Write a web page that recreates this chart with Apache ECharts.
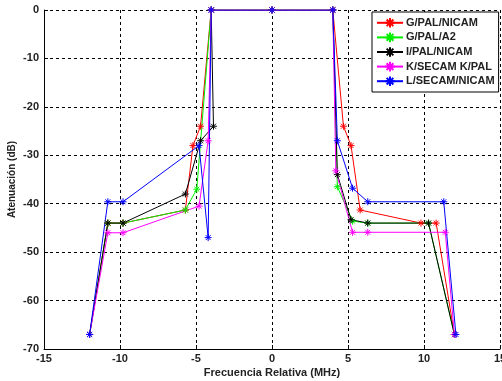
<!DOCTYPE html>
<html><head><meta charset="utf-8">
<script src="https://cdn.jsdelivr.net/npm/echarts@6/dist/echarts.min.js"></script>
<style>html,body{margin:0;padding:0;background:#fff}#c{width:502px;height:381px}</style>
</head><body><div id="c"></div>
<script>
var seriesNames = ['G/PAL/NICAM', 'G/PAL/A2', 'I/PAL/NICAM', 'K/SECAM K/PAL', 'L/SECAM/NICAM'];
var redX = [-12, -10.8, -9.8, -5.7, -5.2, -4.7, -4, 0, 4, 4.7, 5.2, 5.8, 9.8, 10.8, 12];
var redY = [-67, -44, -44, -41.3, -28, -24, 0, 0, 0, -24, -28, -41.3, -44, -44, -67];
var greenX = [-12, -10.8, -9.8, -5.7, -4.95, -4, 0, 4, 4.3, 5.3, 6.3, 10.3, 12];
var greenY = [-67, -44, -44, -41.3, -37, 0, 0, 0, -36.5, -43.6, -44, -44, -67];
var blackX = [-12, -10.8, -9.8, -5.7, -4.7, -3.85, -4, 0, 4, 4.3, 5.2, 6.3, 10.3, 12];
var blackY = [-67, -44, -44, -38, -27, -24, 0, 0, 0, -34, -43.3, -44, -44, -67];
var magentaX = [-12, -10.8, -9.8, -4.8, -4.2, -4, 0, 4, 4.2, 5.3, 6.3, 11.4, 12];
var magentaY = [-67, -46, -46, -40.5, -27, 0, 0, 0, -33.2, -45.9, -45.9, -45.9, -67];
var blueX = [-12, -10.8, -9.8, -4.8, -4.2, -4, 0, 4, 4.3, 5.3, 6.3, 11.3, 12.1];
var blueY = [-67, -39.6, -39.6, -28, -47, 0, 0, 0, -27, -36.8, -39.6, -39.6, -67];

var colors = ['#ff0000', '#00ee00', '#000000', '#ff00ff', '#0000ff'];
var xs = [redX, greenX, blackX, magentaX, blueX];
var ys = [redY, greenY, blackY, magentaY, blueY];

var star = 'path://M5,0L5,10M0,5L10,5M1.5,1.5L8.5,8.5M1.5,8.5L8.5,1.5';
var font = 'Liberation Sans';

var series = seriesNames.map(function (n, i) {
  return {
    name: n, type: 'line',
    data: xs[i].map(function (x, k) { return [x, ys[i][k]]; }),
    symbol: star, symbolSize: 7, showAllSymbol: true,
    lineStyle: { color: colors[i], width: 1 },
    itemStyle: { color: colors[i], borderColor: colors[i], borderWidth: 1 },
    emphasis: { disabled: true },
    animation: false
  };
});

var chart = echarts.init(document.getElementById('c'));
chart.setOption({
  animation: false,
  color: colors,
  grid: { left: 44, right: 2, top: 10, bottom: 32, containLabel: false, outerBoundsMode: 'none' },
  xAxis: {
    type: 'value', min: -15, max: 15, interval: 5,
    name: 'Frecuencia Relativa (MHz)', nameLocation: 'middle', nameGap: 18, nameMoveOverlap: false,
    nameTextStyle: { fontFamily: font, fontWeight: 'bold', fontSize: 11, color: '#222' },
    axisLine: { onZero: false, lineStyle: { color: '#000', width: 1 } },
    axisTick: { inside: true, length: 4, lineStyle: { color: '#000' } },
    axisLabel: { fontFamily: font, fontWeight: 'bold', fontSize: 11, color: '#222', margin: 4 },
    splitLine: { show: true, lineStyle: { color: '#000', type: [3, 3], width: 1 } }
  },
  yAxis: {
    type: 'value', min: -70, max: 0, interval: 10,
    name: 'Atenuación (dB)', nameLocation: 'middle', nameGap: 27, nameMoveOverlap: false,
    nameTextStyle: { fontFamily: font, fontWeight: 'bold', fontSize: 10, color: '#222' },
    axisLine: { show: true, onZero: false, lineStyle: { color: '#000', width: 1 } },
    axisTick: { show: true, inside: true, length: 4, lineStyle: { color: '#000' } },
    axisLabel: { fontFamily: font, fontWeight: 'bold', fontSize: 11, color: '#222', margin: 5 },
    splitLine: { show: true, lineStyle: { color: '#000', type: [3, 3], width: 1 } }
  },
  legend: {
    orient: 'vertical', left: 372, top: 12,
    backgroundColor: '#fff', borderColor: '#000', borderWidth: 1,
    padding: [5, 4, 5, 4], itemGap: 3, itemWidth: 26, itemHeight: 12,
    textStyle: { fontFamily: font, fontWeight: 'bold', fontSize: 11, color: '#222', padding: [0, 0, 0, -2] },
    data: seriesNames
  },
  series: series
});
</script></body></html>
